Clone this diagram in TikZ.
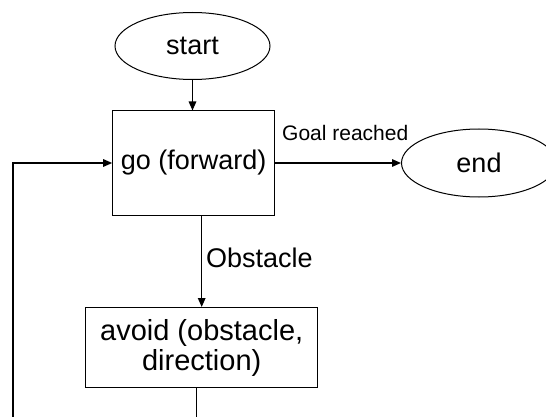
\documentclass[tikz,border=0pt]{standalone}
\usepackage{fontspec}
\setmainfont{Liberation Sans}
\usetikzlibrary{shapes.geometric,arrows.meta}

\tikzset{
  terminal/.style={draw, line width=1pt, ellipse, inner sep=0pt,
    minimum width=155pt, minimum height=67pt, font=\fontsize{27}{30}\selectfont},
  action/.style={draw, line width=1pt, rectangle, inner sep=0pt, align=center},
  flow/.style={line width=1.4pt, -{Triangle[length=9pt,width=7.5pt]}},
  edgelabel/.style={inner sep=0pt}
}

\begin{document}
\begin{tikzpicture}[x=1pt,y=-1pt]
  \useasboundingbox (0,0) rectangle (546,417);
  \clip (0,0) rectangle (546,417);

  % states and actions
  \node[terminal] (start) at (192.5,46) {start};
  \node[action, minimum width=162pt, minimum height=104pt,
        font=\fontsize{27}{30}\selectfont] (go) at (193.7,163) {go (forward)};
  \node[terminal, minimum height=68pt] (finish) at (479,163) {end};
  \node[action, minimum width=232pt, minimum height=80pt,
        font=\fontsize{29}{30}\selectfont] (avoid) at (201.7,347.5)
        {avoid (obstacle,\\direction)};

  % loop back runs below the lower edge and up the left side
  \coordinate (loopcorner) at (13,440);

  % connectors
  \draw[flow] (start.south) -- (start.south |- go.north);
  \draw[flow] (go.east) -- (finish.west);
  \draw[flow] (go.south -| avoid.north) -- (avoid.north);
  \draw[flow] ([xshift=-5pt]avoid.south) |- (loopcorner) |- (go.west);

  % connector labels
  \node[edgelabel, anchor=base west, font=\fontsize{21}{23}\selectfont]
    (goallbl) at (282,141) {Goal reached};
  \node[edgelabel, anchor=base west, font=\fontsize{27}{30}\selectfont]
    (obstlbl) at (206,267) {Obstacle};
\end{tikzpicture}
\end{document}
